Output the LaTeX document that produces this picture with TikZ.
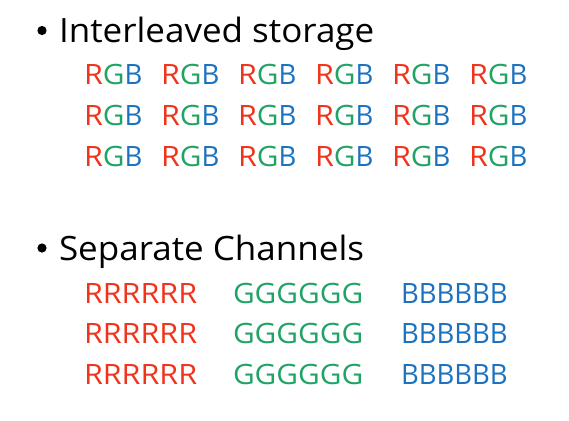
\documentclass[tikz,border=0pt]{standalone}
\usepackage{fontspec}
\usepackage{graphicx}
\setmainfont{Open Sans}
\definecolor{cr}{HTML}{F0341C}
\definecolor{cg}{HTML}{21A366}
\definecolor{cb}{HTML}{1B72C0}
\newcommand{\lR}{\scalebox{1.09}[1]{R}}
\newcommand{\lG}{\scalebox{1.065}[1]{G}}
\newcommand{\lB}{\scalebox{0.98}[1]{B}}
\begin{document}
\begin{tikzpicture}[x=1pt,y=-1pt,
  txt/.style={anchor=base west,inner sep=0pt,outer sep=0pt},
  head/.style={txt,font=\fontsize{33.5}{33.5}\selectfont},
  cell/.style={txt,font=\fontsize{28}{28}\selectfont}]
\useasboundingbox (0,0) rectangle (569,420);
\fill[white] (0,0) rectangle (569,420);
% headings
\fill (42,30.5) circle (4.6);
\node[head] (h1) at (59,43) {\scalebox{1.045}[1]{Interleaved storage}};
\fill (42,248) circle (4.6);
\node[head] (h2) at (59,260) {\scalebox{1.045}[1]{Separate Channels}};
% interleaved
\foreach \r/\y in {1/84,2/125,3/166}{
  \foreach \c in {0,...,5}{
    \node[cell] (i\r\c) at (84+77*\c,\y) {\textcolor{cr}{\lR}\textcolor{cg}{\lG}\textcolor{cb}{\lB}};
  }
}
% separate
\foreach \r/\y in {1/303,2/343,3/384}{
  \node[cell,text=cr] (sr\r) at (84,\y) {\lR\lR\lR\lR\lR\lR};
  \node[cell,text=cg] (sg\r) at (233,\y) {\lG\lG\lG\lG\lG\lG};
  \node[cell,text=cb] (sb\r) at (401,\y) {\lB\lB\lB\lB\lB\lB};
}
\end{tikzpicture}
\end{document}
